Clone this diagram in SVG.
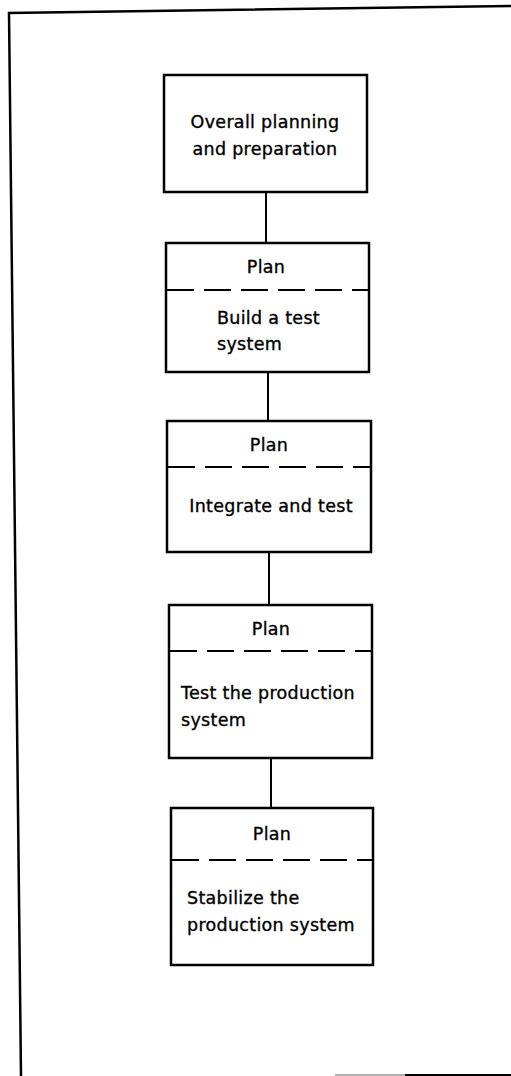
<svg xmlns="http://www.w3.org/2000/svg" width="511" height="1076" viewBox="0 0 511 1076">
<style>
.box{fill:#fff;stroke:#000;stroke-width:2.5}
.dash{stroke:#000;stroke-width:2.2;stroke-dasharray:27 10;fill:none}
.conn{stroke:#000;stroke-width:2;fill:none}
.frame{stroke:#000;stroke-width:2.5;fill:none}
text{font-family:"DejaVu Sans","Liberation Sans",sans-serif;font-size:17.5px;letter-spacing:0.3px;fill:#000;stroke:#000;stroke-width:0.35}
.c{text-anchor:middle}
</style>
<rect width="511" height="1076" fill="#fff"/>
<g id="frame">
<path class="frame" d="M511,6 L9,13 L21,1076"/>
<line x1="335" y1="1075" x2="405" y2="1075" stroke="#999" stroke-width="1.5"/>
<line x1="405" y1="1075" x2="511" y2="1075" stroke="#000" stroke-width="2"/>
</g>
<g id="connectors">
<line class="conn" x1="266" y1="192" x2="266" y2="243"/>
<line class="conn" x1="268" y1="372" x2="268" y2="421"/>
<line class="conn" x1="269" y1="552" x2="269" y2="605"/>
<line class="conn" x1="271" y1="758" x2="271" y2="808"/>
</g>
<g id="n1">
<rect class="box" x="164" y="75" width="203" height="117"/>
<text class="c" x="265" y="128">Overall planning</text>
<text class="c" x="265" y="155">and preparation</text>
</g>
<g id="n2">
<rect class="box" x="166" y="243" width="203" height="129"/>
<text class="c" x="266" y="273">Plan</text>
<line class="dash" x1="167" y1="290" x2="368" y2="290"/>
<text x="217" y="324">Build a test</text>
<text x="217" y="350">system</text>
</g>
<g id="n3">
<rect class="box" x="167" y="421" width="204" height="131"/>
<text class="c" x="269" y="451">Plan</text>
<line class="dash" x1="168" y1="467" x2="370" y2="467"/>
<text class="c" x="271" y="512">Integrate and test</text>
</g>
<g id="n4">
<rect class="box" x="169" y="605" width="203" height="153"/>
<text class="c" x="271" y="635">Plan</text>
<line class="dash" x1="170" y1="651" x2="371" y2="651"/>
<text x="181" y="699">Test the production</text>
<text x="181" y="726">system</text>
</g>
<g id="n5">
<rect class="box" x="171" y="808" width="202" height="157"/>
<text class="c" x="272" y="840">Plan</text>
<line class="dash" x1="172" y1="860" x2="372" y2="860"/>
<text x="187" y="904">Stabilize the</text>
<text x="187" y="931">production system</text>
</g>
</svg>
